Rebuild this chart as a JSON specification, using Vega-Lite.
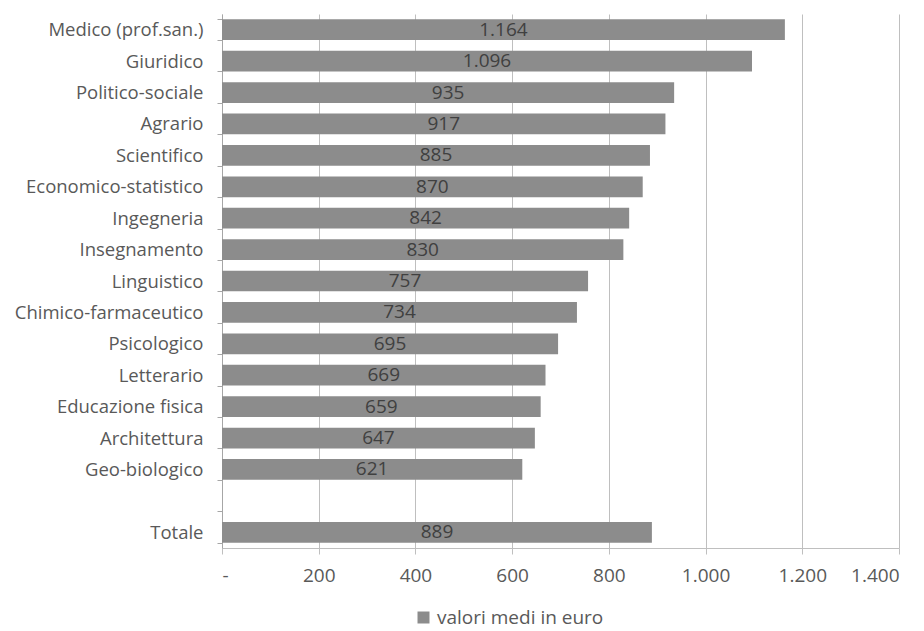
{
  "$schema": "https://vega.github.io/schema/vega-lite/v6.json",
  "width": 677,
  "height": 534,
  "autosize": {"type": "none"},
  "padding": {"left": 222, "top": 14, "right": 25, "bottom": 83},
  "background": "white",
  "config": {
    "view": {"stroke": null},
    "font": "Open Sans",
    "locale": {"number": {"decimal": ",", "thousands": ".", "grouping": [3], "currency": ["€", ""]}}
  },
  "data": {
    "values": [
      {"cat": "Medico (prof.san.)", "v": 1164},
      {"cat": "Giuridico", "v": 1096},
      {"cat": "Politico-sociale", "v": 935},
      {"cat": "Agrario", "v": 917},
      {"cat": "Scientifico", "v": 885},
      {"cat": "Economico-statistico", "v": 870},
      {"cat": "Ingegneria", "v": 842},
      {"cat": "Insegnamento", "v": 830},
      {"cat": "Linguistico", "v": 757},
      {"cat": "Chimico-farmaceutico", "v": 734},
      {"cat": "Psicologico", "v": 695},
      {"cat": "Letterario", "v": 669},
      {"cat": "Educazione fisica", "v": 659},
      {"cat": "Architettura", "v": 647},
      {"cat": "Geo-biologico", "v": 621},
      {"cat": "Totale", "v": 889}
    ]
  },
  "encoding": {
    "y": {
      "field": "cat",
      "type": "nominal",
      "scale": {
        "domain": ["Medico (prof.san.)", "Giuridico", "Politico-sociale", "Agrario", "Scientifico", "Economico-statistico", "Ingegneria", "Insegnamento", "Linguistico", "Chimico-farmaceutico", "Psicologico", "Letterario", "Educazione fisica", "Architettura", "Geo-biologico", " ", "Totale"],
        "paddingInner": 0.34,
        "paddingOuter": 0.17
      },
      "axis": {
        "title": null,
        "tickBand": "extent",
        "domainColor": "#a6a6a6",
        "tickColor": "#a6a6a6",
        "tickSize": 5,
        "labelFontSize": 18.5,
        "labelColor": "#595959",
        "labelPadding": 14,
        "labelLimit": 0
      }
    }
  },
  "layer": [
    {
      "mark": {"type": "bar", "color": "#8c8c8c"},
      "encoding": {
        "x": {
          "field": "v",
          "type": "quantitative",
          "scale": {"domain": [0, 1400], "nice": false},
          "axis": {
            "title": null,
            "values": [0, 200, 400, 600, 800, 1000, 1200, 1400],
            "labelExpr": "datum.value == 0 ? '-' : datum.label",
            "grid": true,
            "gridColor": "#bfbfbf",
            "domainColor": "#bfbfbf",
            "tickColor": "#bfbfbf",
            "tickSize": 6,
            "labelFontSize": 19,
            "labelColor": "#595959",
            "labelPadding": 12
          }
        },
        "color": {
          "datum": "valori medi in euro",
          "type": "nominal",
          "scale": {"range": ["#8c8c8c"]},
          "legend": {
            "title": null,
            "orient": "none",
            "legendX": 192,
            "legendY": 594,
            "symbolType": "square",
            "symbolSize": 144,
            "labelFontSize": 19,
            "labelColor": "#595959",
            "labelLimit": 0
          }
        }
      }
    },
    {
      "mark": {"type": "text", "color": "#404040", "fontSize": 19, "baseline": "middle", "align": "center"},
      "encoding": {
        "x": {
          "field": "v",
          "type": "quantitative",
          "scale": {"domain": [0, 2800], "nice": false},
          "axis": null
        },
        "text": {"field": "v", "type": "quantitative", "format": ",d"}
      }
    }
  ],
  "resolve": {"scale": {"x": "independent"}}
}
